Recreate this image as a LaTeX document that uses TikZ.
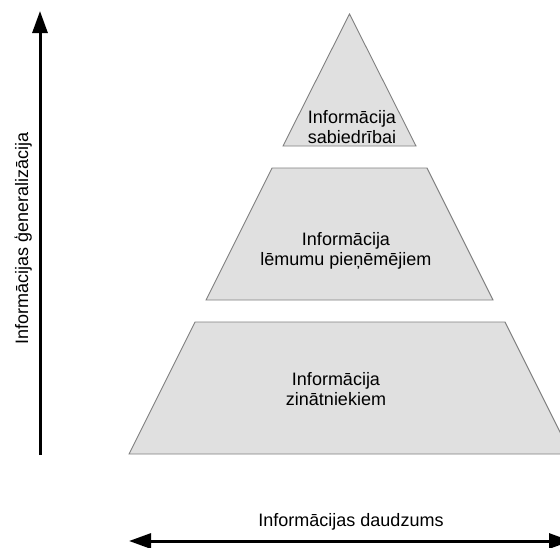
\documentclass[tikz,border=0pt]{standalone}
\usepackage{fontspec}
\setmainfont{Liberation Sans}
\usetikzlibrary{arrows.meta}
\definecolor{tierfill}{RGB}{224,224,224}
\definecolor{tierline}{RGB}{128,128,128}
\tikzset{
  tier/.style={fill=tierfill, draw=tierline, line width=0.9pt, line join=miter},
  tierlabel/.style={align=center, font=\fontsize{18}{20.5}\selectfont, text=black, inner sep=0pt},
  axis/.style={line width=3pt, -{Triangle[length=22pt,width=15pt]}},
  axisboth/.style={line width=3pt, {Triangle[length=22pt,width=15pt]}-{Triangle[length=22pt,width=15pt]}},
  axislabel/.style={font=\fontsize{18}{20}\selectfont, inner sep=0pt}
}
\begin{document}
\begin{tikzpicture}[x=1pt,y=-1pt]
  \clip (0,0) rectangle (560,547);
  \fill[white] (0,0) rectangle (560,547);

  % pyramid tiers, top to bottom
  \draw[tier] (349.5,14) -- (416,146) -- (283,146) -- cycle;
  \draw[tier] (272,168) -- (427,168) -- (493,300) -- (206,300) -- cycle;
  \draw[tier] (195,322) -- (505,322) -- (571,454) -- (129,454) -- cycle;

  \node[tierlabel] (top) at (352,127) {Informācija\\sabiedrībai};
  \node[tierlabel] (mid) at (346,251) {Informācija\\lēmumu pieņēmējiem};
  \node[tierlabel] (base) at (336,389) {Informācija\\zinātniekiem};

  % generalisation axis
  \coordinate (gbot) at (40,455);
  \coordinate (gtop) at (40,11);
  \draw[axis] (gbot) -- (gtop);
  \node[axislabel, rotate=90] (glabel) at (23,238) {Informācijas ģeneralizācija};

  % quantity axis
  \coordinate (qleft) at (129,541);
  \coordinate (qright) at (571,541);
  \draw[axisboth] (qleft) -- (qright);
  \node[axislabel] (qlabel) at (351,522) {Informācijas daudzums};
\end{tikzpicture}
\end{document}
